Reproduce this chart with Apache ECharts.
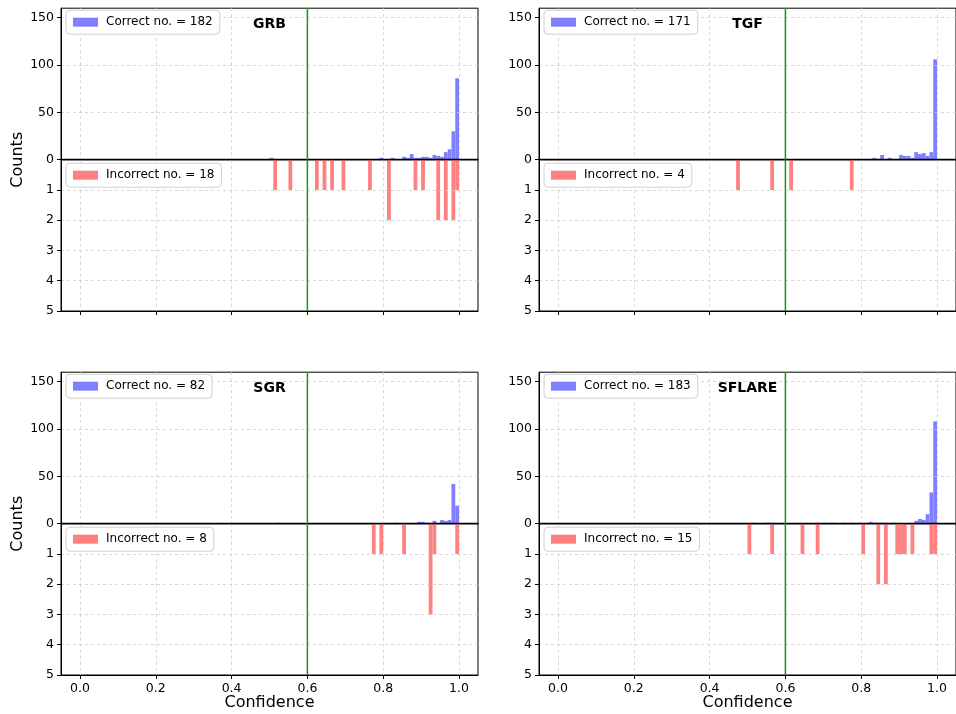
<!DOCTYPE html>
<html>
<head>
<meta charset="utf-8">
<script src="https://cdn.jsdelivr.net/npm/echarts@6/dist/echarts.min.js"></script>
<style>
  html, body { margin: 0; padding: 0; background: #fff; }
  #chart { width: 956px; height: 714px; }
</style>
</head>
<body>
<div id="chart"></div>
<script>
// Histogram bins are 0.01 wide; each entry is the left edge of a bin.
const BIN_WIDTH = 0.01;
const THRESHOLD = 0.6;
const xTicks = [0, 0.2, 0.4, 0.6, 0.8, 1.0];
const countTicks = [0, 50, 100, 150];
const errorTicks = [1, 2, 3, 4, 5];
const panelTitles = ['GRB', 'TGF', 'SGR', 'SFLARE'];

// GRB
const grbCorrectEdges  = [0.50, 0.79, 0.82, 0.85, 0.86, 0.87, 0.88, 0.89, 0.90, 0.91, 0.92, 0.93, 0.94, 0.95, 0.96, 0.97, 0.98, 0.99];
const grbCorrectCounts = [2,    2,    2,    3,    2,    6,    2,    2,    3,    3,    2,    5,    4,    3,    8,    11,   30,   86];
const grbWrongEdges    = [0.51, 0.55, 0.62, 0.64, 0.66, 0.69, 0.76, 0.81, 0.88, 0.90, 0.94, 0.96, 0.98, 0.99];
const grbWrongCounts   = [1,    1,    1,    1,    1,    1,    1,    2,    1,    1,    2,    2,    2,    1];

// TGF
const tgfCorrectEdges  = [0.83, 0.85, 0.87, 0.90, 0.91, 0.92, 0.93, 0.94, 0.95, 0.96, 0.97, 0.98, 0.99];
const tgfCorrectCounts = [2,    5,    2,    5,    4,    4,    2,    8,    6,    7,    4,    8,    106];
const tgfWrongEdges    = [0.47, 0.56, 0.61, 0.77];
const tgfWrongCounts   = [1,    1,    1,    1];

// SGR
const sgrCorrectEdges  = [0.52, 0.83, 0.89, 0.90, 0.91, 0.93, 0.95, 0.96, 0.97, 0.98, 0.99];
const sgrCorrectCounts = [1,    1,    2,    2,    1,    3,    4,    3,    4,    42,   19];
const sgrWrongEdges    = [0.77, 0.79, 0.85, 0.92, 0.93, 0.99];
const sgrWrongCounts   = [1,    1,    1,    3,    1,    1];

// SFLARE
const sflCorrectEdges  = [0.36, 0.51, 0.54, 0.55, 0.56, 0.68, 0.70, 0.72, 0.75, 0.77, 0.79, 0.82, 0.83, 0.84, 0.85, 0.86, 0.88, 0.90, 0.92, 0.94, 0.95, 0.96, 0.97, 0.98, 0.99];
const sflCorrectCounts = [1,    1,    1,    1,    1,    1,    1,    1,    1,    1,    1,    2,    1,    1,    1,    1,    1,    1,    1,    3,    5,    4,    10,   33,   108];
const sflWrongEdges    = [0.50, 0.56, 0.64, 0.68, 0.80, 0.84, 0.86, 0.89, 0.90, 0.91, 0.93, 0.98, 0.99];
const sflWrongCounts   = [1,    1,    1,    1,    1,    2,    2,    1,    1,    1,    1,    1,    1];

const correctTotals = [182, 171, 82, 183];
const wrongTotals   = [18, 4, 8, 15];

const panelData = [
  [grbCorrectEdges, grbCorrectCounts, grbWrongEdges, grbWrongCounts],
  [tgfCorrectEdges, tgfCorrectCounts, tgfWrongEdges, tgfWrongCounts],
  [sgrCorrectEdges, sgrCorrectCounts, sgrWrongEdges, sgrWrongCounts],
  [sflCorrectEdges, sflCorrectCounts, sflWrongEdges, sflWrongCounts]
];

const FONT = 'DejaVu Sans';
const BLUE = '#8080ff';
const RED = '#ff8080';
const GREEN = '#109a10';
const GRID_LINE = { show: true, lineStyle: { color: '#cfcfcf', width: 0.8, type: [3, 3] } };

function pairs(edges, counts) {
  return edges.map((e, i) => [e, counts[i]]);
}

function renderBin(params, api) {
  const x0 = api.value(0);
  const c = api.value(1);
  const a = api.coord([x0, 0]);
  const b = api.coord([x0 + BIN_WIDTH, c]);
  return {
    type: 'rect',
    shape: {
      x: Math.min(a[0], b[0]),
      y: Math.min(a[1], b[1]),
      width: Math.abs(b[0] - a[0]),
      height: Math.abs(b[1] - a[1])
    },
    style: { fill: api.visual('color') }
  };
}

const grids = [], xAxes = [], yAxes = [], series = [], legends = [], texts = [];

panelData.forEach((d, i) => {
  const col = i % 2, row = Math.floor(i / 2);
  const left = col ? 539 : 61;
  const width = 417;
  const yOff = row ? 364 : 0;
  const topA = 8.2 + yOff, hA = 151.5;
  const topB = 159.7 + yOff, hB = 151.3;
  const gA = 2 * i, gB = 2 * i + 1;

  grids.push({ left: left, top: topA, width: width, height: hA, show: true, borderColor: '#000', borderWidth: 1 });
  grids.push({ left: left, top: topB, width: width, height: hB, show: true, borderColor: '#000', borderWidth: 1 });

  // upper panel: correct counts
  xAxes.push({
    type: 'value', gridIndex: gA, min: -0.05, max: 1.05, z: 3,
    axisLine: { show: true, onZero: false, lineStyle: { color: '#000', width: 1.3 } },
    axisTick: { show: false, customValues: xTicks },
    axisLabel: { show: false, customValues: xTicks },
    splitLine: GRID_LINE
  });
  // lower panel: incorrect counts
  xAxes.push({
    type: 'value', gridIndex: gB, min: -0.05, max: 1.05, z: 3,
    axisLine: { show: true, onZero: false, lineStyle: { color: '#000', width: 1 } },
    axisTick: { show: true, length: 4, customValues: xTicks, lineStyle: { color: '#000' } },
    axisLabel: {
      show: row === 1, customValues: xTicks, margin: 7,
      fontFamily: FONT, fontSize: 12.5, color: '#000',
      formatter: v => v.toFixed(1)
    },
    splitLine: GRID_LINE
  });

  yAxes.push({
    type: 'value', gridIndex: gA, min: 0, max: 160, z: 3,
    axisLine: { show: true, onZero: false, lineStyle: { color: '#000', width: 1 } },
    axisTick: { show: true, length: 4, customValues: countTicks, lineStyle: { color: '#000' } },
    axisLabel: { customValues: countTicks, margin: 7, fontFamily: FONT, fontSize: 12.5, color: '#000' },
    splitLine: GRID_LINE
  });
  yAxes.push({
    type: 'value', gridIndex: gB, min: 0, max: 5, inverse: true, z: 3,
    axisLine: { show: true, onZero: false, lineStyle: { color: '#000', width: 1 } },
    axisTick: { show: true, length: 4, customValues: errorTicks, lineStyle: { color: '#000' } },
    axisLabel: { customValues: errorTicks, margin: 7, fontFamily: FONT, fontSize: 12.5, color: '#000' },
    splitLine: GRID_LINE
  });

  const nameCorrect = 'Correct no. = ' + correctTotals[i];
  const nameWrong = 'Incorrect no. = ' + wrongTotals[i];

  series.push({
    type: 'custom', name: nameCorrect, xAxisIndex: gA, yAxisIndex: gA,
    itemStyle: { color: BLUE }, renderItem: renderBin, silent: true, z: 2,
    data: pairs(d[0], d[1])
  });
  series.push({
    type: 'custom', name: nameWrong, xAxisIndex: gB, yAxisIndex: gB,
    itemStyle: { color: RED }, renderItem: renderBin, silent: true, z: 2,
    data: pairs(d[2], d[3])
  });
  // decision threshold
  series.push({
    type: 'line', xAxisIndex: gA, yAxisIndex: gA, symbol: 'none', silent: true, z: 4,
    lineStyle: { color: GREEN, width: 1.5 }, data: [[THRESHOLD, 0], [THRESHOLD, 160]]
  });
  series.push({
    type: 'line', xAxisIndex: gB, yAxisIndex: gB, symbol: 'none', silent: true, z: 4,
    lineStyle: { color: GREEN, width: 1.5 }, data: [[THRESHOLD, 0], [THRESHOLD, 5]]
  });

  const legendBase = {
    orient: 'horizontal', selectedMode: false, icon: 'rect',
    itemWidth: 25, itemHeight: 9,
    padding: [6, 7, 6, 7],
    borderColor: '#d0d0d0', borderWidth: 1, borderRadius: 4,
    backgroundColor: 'rgba(255,255,255,0.85)',
    textStyle: { fontFamily: FONT, fontSize: 12, color: '#000', padding: [0, 0, 0, 3] }
  };
  legends.push(Object.assign({}, legendBase, { data: [nameCorrect], left: left + 5, top: topA + 2 }));
  legends.push(Object.assign({}, legendBase, { data: [nameWrong], left: left + 5, top: topB + 3.5 }));

  texts.push({
    type: 'text', x: left + width / 2, y: topA + 16,
    style: { text: panelTitles[i], fontFamily: FONT, fontSize: 14, fontWeight: 'bold', fill: '#000', textAlign: 'center', textVerticalAlign: 'middle' }
  });
  if (col === 0) {
    texts.push({
      type: 'text', x: 18, y: topB, rotation: Math.PI / 2,
      style: { text: 'Counts', fontFamily: FONT, fontSize: 16, fill: '#000', textAlign: 'center', textVerticalAlign: 'middle' }
    });
  }
  if (row === 1) {
    texts.push({
      type: 'text', x: left + width / 2, y: 703,
      style: { text: 'Confidence', fontFamily: FONT, fontSize: 16, fill: '#000', textAlign: 'center', textVerticalAlign: 'middle' }
    });
  }
});

const chart = echarts.init(document.getElementById('chart'), null, { renderer: 'canvas' });
chart.setOption({
  animation: false,
  backgroundColor: '#fff',
  grid: grids,
  xAxis: xAxes,
  yAxis: yAxes,
  legend: legends,
  series: series,
  graphic: texts
});
</script>
</body>
</html>
